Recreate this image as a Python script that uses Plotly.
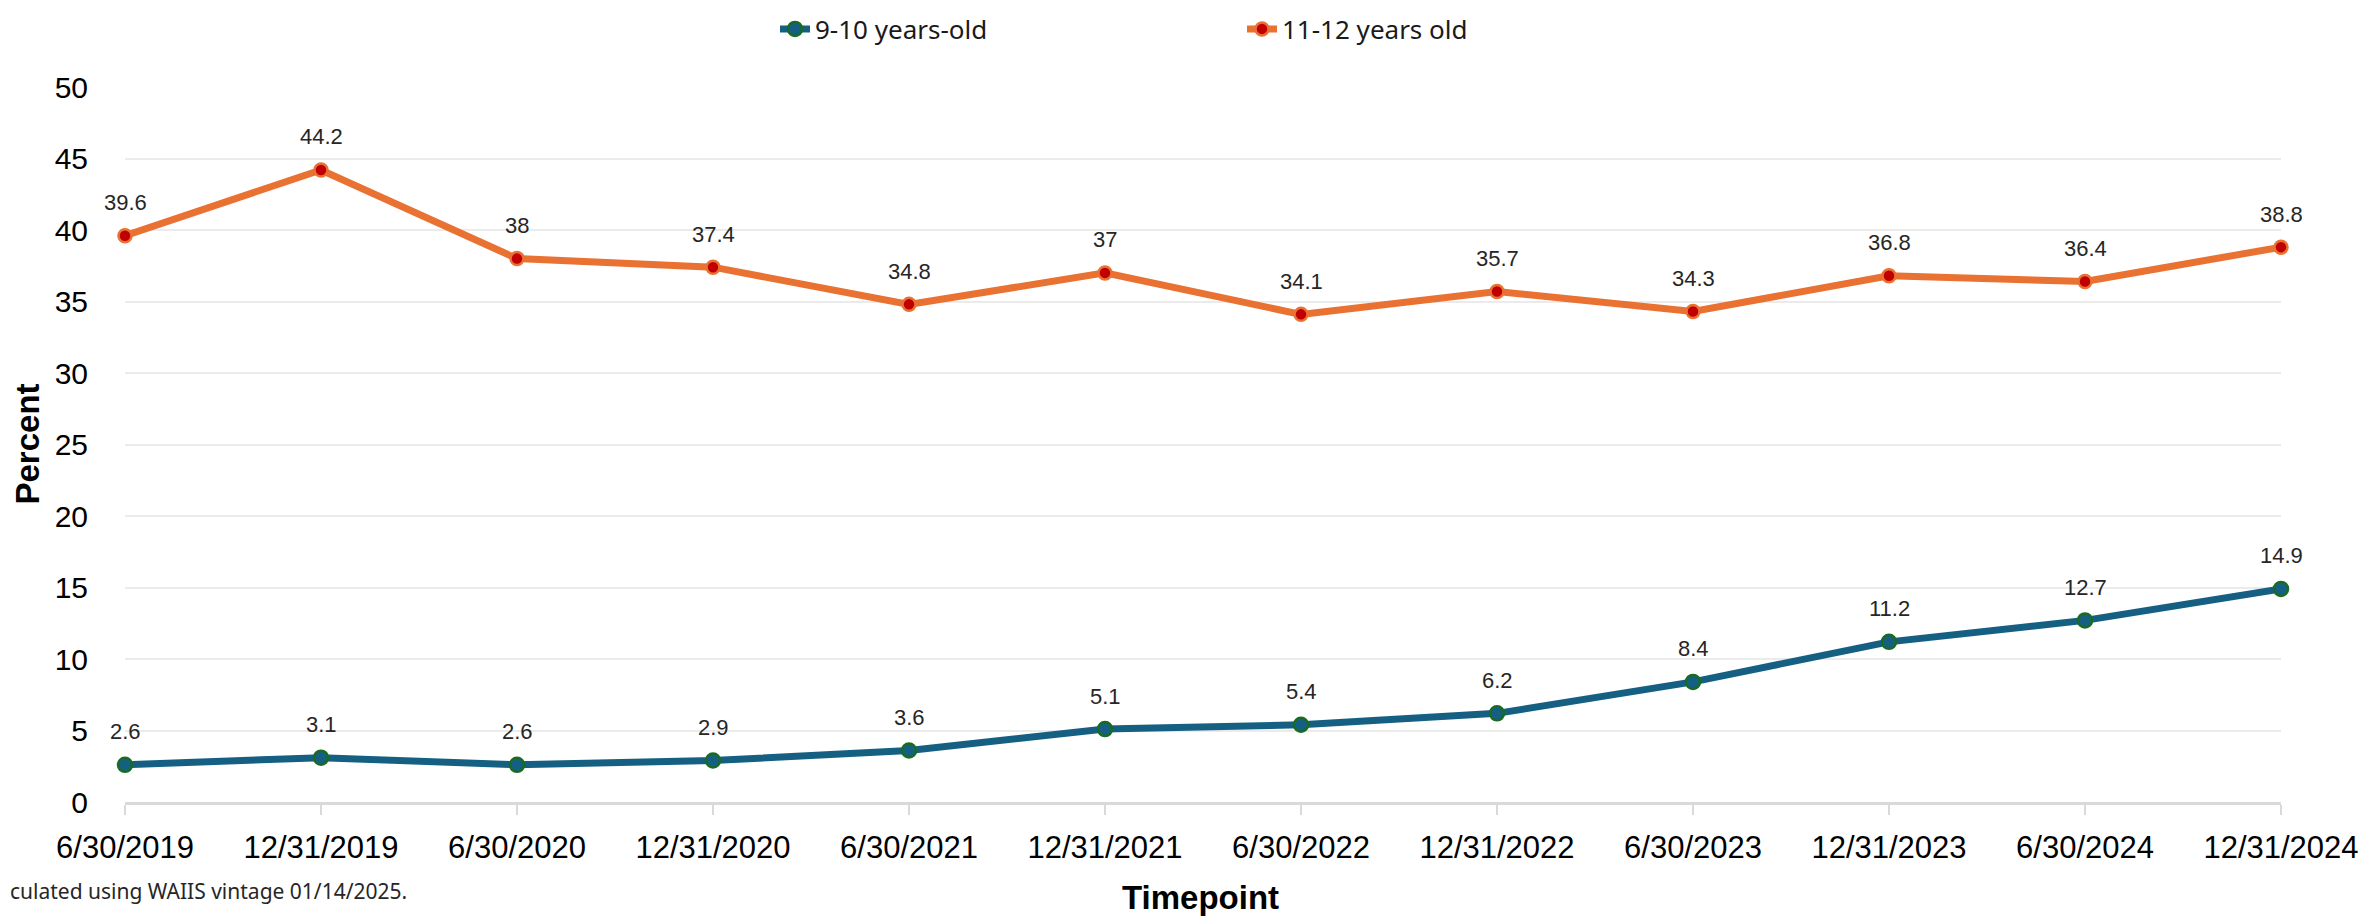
import plotly.graph_objects as go

timepoints = ["6/30/2019", "12/31/2019", "6/30/2020", "12/31/2020", "6/30/2021", "12/31/2021",
              "6/30/2022", "12/31/2022", "6/30/2023", "12/31/2023", "6/30/2024", "12/31/2024"]
age_9_10 = [2.6, 3.1, 2.6, 2.9, 3.6, 5.1, 5.4, 6.2, 8.4, 11.2, 12.7, 14.9]
age_11_12 = [39.6, 44.2, 38, 37.4, 34.8, 37, 34.1, 35.7, 34.3, 36.8, 36.4, 38.8]
y_ticks = [0, 5, 10, 15, 20, 25, 30, 35, 40, 45, 50]

FONT = "Liberation Sans"
OFF = 8  # page body margin
W, H = 2379 - OFF, 920 - OFF
# plot area in page pixels: x 125..2281, y 87..802
L, T = 125 - OFF, 87 - OFF
R = W - (2281 - OFF)
B = H - (802 - OFF)
PW, PH = W - L - R, H - T - B


def px(xp):
    return (xp - 125) / PW


def py(yp):
    return (802 - yp) / PH


fig = go.Figure()
fig.add_trace(go.Scatter(
    x=timepoints, y=age_9_10, name="9-10 years-old", mode="lines+markers",
    line=dict(color="#156082", width=7),
    marker=dict(size=14, color="#156082", line=dict(color="#196B24", width=2.5)),
    cliponaxis=False,
))
fig.add_trace(go.Scatter(
    x=timepoints, y=age_11_12, name="11-12 years old", mode="lines+markers",
    line=dict(color="#E97132", width=7),
    marker=dict(size=13, color="#C00000", line=dict(color="#E97132", width=2.5)),
    cliponaxis=False,
))

annotations = []
for series in (age_9_10, age_11_12):
    for xv, yv in zip(timepoints, series):
        annotations.append(dict(
            x=xv, y=yv, xref="x", yref="y", text=f"{yv:g}", showarrow=False,
            yshift=33, font=dict(family=FONT, size=22, color="#262626"),
        ))

annotations.append(dict(
    x=px(1200), y=py(897), xref="paper", yref="paper",
    xanchor="center", yanchor="middle",
    text="<b>Timepoint</b>", showarrow=False,
    font=dict(family=FONT, size=33, color="#000000"),
))
annotations.append(dict(
    x=px(27), y=0.5, xref="paper", yref="paper",
    xanchor="center", yanchor="middle",
    text="<b>Percent</b>", showarrow=False, textangle=-90,
    font=dict(family=FONT, size=33, color="#000000"),
))
annotations.append(dict(
    x=px(OFF), y=py(891), xref="paper", yref="paper",
    xanchor="left", yanchor="middle",
    text="culated using WAIIS vintage 01/14/2025.", showarrow=False,
    font=dict(family="Noto Sans", size=21, color="#262626"),
))

fig.update_layout(
    width=W, height=H,
    margin=dict(l=L, r=R, t=T, b=B, autoexpand=False),
    paper_bgcolor="white", plot_bgcolor="white",
    font=dict(family=FONT, color="#000000"),
    showlegend=True,
    legend=dict(
        orientation="h", x=px(775), xanchor="left",
        y=py(29), yanchor="middle",
        font=dict(family="Noto Sans", size=26, color="#1a1a1a"),
        entrywidth=422, entrywidthmode="pixels",
        bgcolor="rgba(0,0,0,0)",
    ),
    annotations=annotations,
)
fig.update_xaxes(
    type="category", range=[0, len(timepoints) - 1],
    showline=True, linecolor="#D9D9D9", linewidth=2.5,
    ticks="outside", ticklen=10, tickcolor="#D9D9D9", tickwidth=2,
    showgrid=False, zeroline=False, automargin=False,
    tickfont=dict(family=FONT, size=31, color="#000000"),
    ticklabelstandoff=6,
)
fig.update_yaxes(
    range=[0, 50], tickvals=y_ticks,
    showgrid=True, gridcolor="#EBEBEB", gridwidth=2,
    zeroline=False, showline=False, automargin=False,
    ticks="outside", ticklen=30, tickcolor="rgba(0,0,0,0)",
    tickfont=dict(family=FONT, size=30, color="#000000"),
)

fig.write_html("out.html")
